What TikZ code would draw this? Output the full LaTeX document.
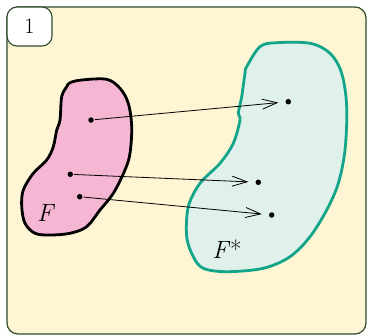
\documentclass[tikz,border=0pt]{standalone}
\usetikzlibrary{arrows.meta}
\definecolor{cream}{HTML}{FDF5D3}
\definecolor{framegreen}{HTML}{2F4A2C}
\definecolor{pinkfill}{HTML}{F4B6D2}
\definecolor{tealfill}{HTML}{E0F1EC}
\definecolor{tealline}{HTML}{12A58A}
\begin{document}
\begin{tikzpicture}[x=1pt,y=-1pt,
  dotnode/.style={circle,fill=black,inner sep=0pt,minimum size=5.5pt},
  mapsto/.style={-{Straight Barb[length=15pt,width=10pt,line width=0.8pt]},line width=0.8pt,shorten >=7pt,shorten <=1pt},
  labelbox/.style={draw=framegreen,fill=white,rounded corners=10pt,line width=1.1pt}]
\useasboundingbox (0,0) rectangle (367,335);
% frame
\draw[draw=framegreen,fill=cream,line width=1.2pt,rounded corners=11pt] (7,7) rectangle (366,334);
\draw[labelbox] (7,7) rectangle (52,46);
\node[font=\fontsize{22}{24}\selectfont] (num) at (29.5,26.5) {1};
% F blob
\draw[line width=2.8pt,fill=pinkfill,line join=round] plot[smooth cycle,tension=0.55] coordinates {
 (70,82.7) (81.7,80) (106.7,79.3) (120,88.3) (128.3,103.3) (131.7,126.7) (130,153.3) (125,170)
 (113.3,193.3) (100,210) (86.7,226.7) (70,233.3) (50,235) (35,233.3) (25,223.3) (21.7,206.7)
 (23.3,190) (33.3,173.3) (46.7,160) (53.3,146.7) (56.7,130) (60,120) (61.7,96.7) (66.7,86.7)};
% F* blob
\draw[line width=2.8pt,draw=tealline,fill=tealfill,line join=round] plot[smooth cycle,tension=0.55] coordinates {
 (246.7,66.7) (260,46.7) (276.7,42.7) (310,43.3) (330,53.3) (341.7,73.3) (346.7,106.7) (345,150)
 (338.3,183.3) (326.7,210) (310,236.7) (290,256.7) (263.3,268.3) (226.7,271.7) (203.3,268.3)
 (193.3,256.7) (186.7,236.7) (188.3,206.7) (200,183.3) (220,163.3) (233.3,143.3) (240,120)
 (238.3,113.3) (241.7,96.7) (245,73.3)};
% labels
\node[font=\fontsize{25}{27}\selectfont\itshape] (lF) at (45,213) {F};
\node[font=\fontsize{25}{27}\selectfont] (lFs) at (227,249) {\textit{F}*};
% dots
\node[dotnode] (a1) at (91,120) {};
\node[dotnode] (a2) at (70.3,174.3) {};
\node[dotnode] (a3) at (79.7,196.7) {};
\node[dotnode] (b1) at (288.3,101.7) {};
\node[dotnode] (b2) at (258.3,182.3) {};
\node[dotnode] (b3) at (271.7,215) {};
% arrows
\draw[mapsto] (a1) -- (b1);
\draw[mapsto] (a2) -- (b2);
\draw[mapsto] (a3) -- (b3);
\end{tikzpicture}
\end{document}
